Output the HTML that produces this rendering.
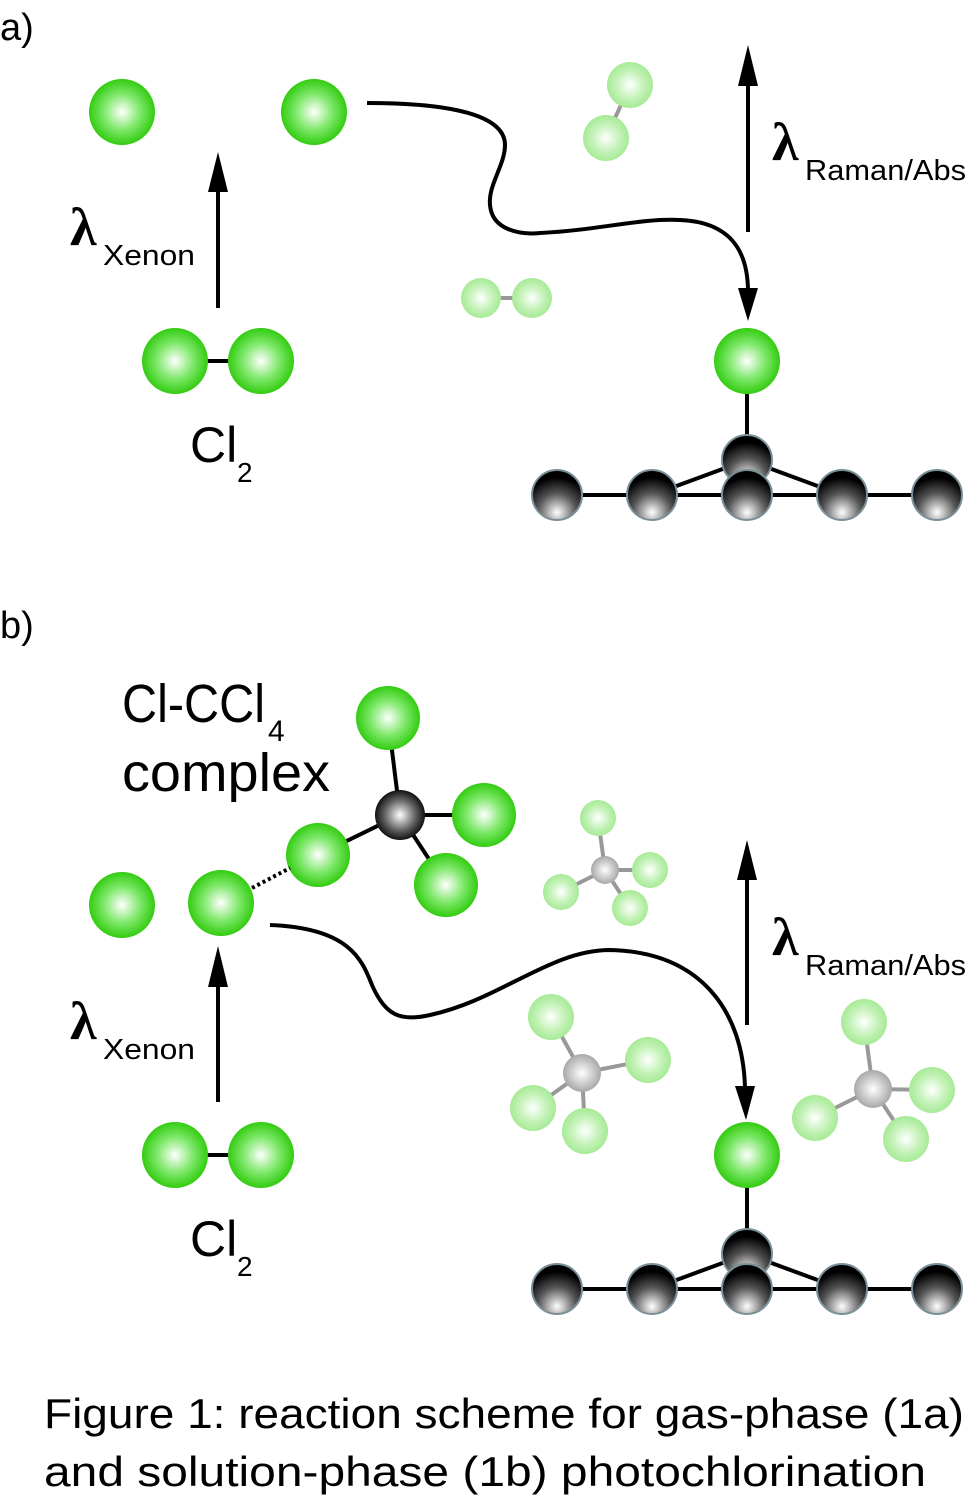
<!DOCTYPE html>
<html><head><meta charset="utf-8"><style>html,body{margin:0;padding:0;background:#fff}svg{display:block}</style></head>
<body>
<svg width="968" height="1502" viewBox="0 0 968 1502" xmlns="http://www.w3.org/2000/svg" font-family="'Liberation Sans', sans-serif">
<defs>
<radialGradient id="g" cx="0.5" cy="0.5" r="0.5"><stop offset="0" stop-color="#ffffff"/><stop offset="0.55" stop-color="#7ee86a"/><stop offset="1" stop-color="#33cc11"/></radialGradient>
<radialGradient id="f" cx="0.5" cy="0.5" r="0.5"><stop offset="0" stop-color="#ffffff"/><stop offset="0.6" stop-color="#c4f2b8"/><stop offset="1" stop-color="#a6ea96"/></radialGradient>
<radialGradient id="k" cx="0.5" cy="0.85" r="0.7"><stop offset="0" stop-color="#ffffff"/><stop offset="0.55" stop-color="#555"/><stop offset="1" stop-color="#000"/></radialGradient>
<radialGradient id="c" cx="0.5" cy="0.5" r="0.5"><stop offset="0" stop-color="#fff"/><stop offset="0.6" stop-color="#666"/><stop offset="1" stop-color="#111"/></radialGradient>
<radialGradient id="s" cx="0.5" cy="0.5" r="0.5"><stop offset="0" stop-color="#fff"/><stop offset="1" stop-color="#a8a8a8"/></radialGradient>
</defs>

<!-- ============ PANEL A ============ -->
<text x="0" y="40" font-size="38">a)</text>
<circle cx="122" cy="112" r="33" fill="url(#g)"/>
<circle cx="314" cy="112" r="33" fill="url(#g)"/>
<line x1="218" y1="308" x2="218" y2="185" stroke="#000" stroke-width="4"/>
<polygon points="208,192 228,192 218,152" fill="#000"/>
<text x="70" y="245" font-size="54" font-family="'Liberation Serif', serif" font-weight="bold">λ</text><text x="103" y="265" font-size="29" textLength="92" lengthAdjust="spacingAndGlyphs">Xenon</text>
<line x1="200" y1="361" x2="236" y2="361" stroke="#000" stroke-width="4"/>
<circle cx="175" cy="361" r="33" fill="url(#g)"/>
<circle cx="261" cy="361" r="33" fill="url(#g)"/>
<text x="190" y="462" font-size="50">Cl</text><text x="237" y="482" font-size="28">2</text>

<path d="M367,103 C450,103 505,115 505,145 C505,165 488,185 490,205 C492,230 520,235 540,233 C600,230 640,218 680,220 C730,222 748,250 748,292" fill="none" stroke="#000" stroke-width="4"/>
<polygon points="738,288 758,288 748,321" fill="#000"/>
<line x1="748" y1="232" x2="748" y2="80" stroke="#000" stroke-width="4"/>
<polygon points="738,86 758,86 748,45" fill="#000"/>
<text x="772" y="160" font-size="54" font-family="'Liberation Serif', serif" font-weight="bold">λ</text><text x="805" y="180" font-size="29" textLength="161" lengthAdjust="spacingAndGlyphs">Raman/Abs</text>

<line x1="630" y1="85" x2="606" y2="138" stroke="#999" stroke-width="4"/>
<circle cx="630" cy="85" r="23" fill="url(#f)"/>
<circle cx="606" cy="138" r="23" fill="url(#f)"/>
<line x1="481" y1="298" x2="532" y2="298" stroke="#999" stroke-width="4"/>
<circle cx="481" cy="298" r="20" fill="url(#f)"/>
<circle cx="532" cy="298" r="20" fill="url(#f)"/>

<g>
<line x1="747" y1="361" x2="747" y2="445" stroke="#000" stroke-width="4"/>
<line x1="557" y1="495" x2="937" y2="495" stroke="#000" stroke-width="4"/>
<line x1="652" y1="495" x2="747" y2="460" stroke="#000" stroke-width="4"/>
<line x1="842" y1="495" x2="747" y2="460" stroke="#000" stroke-width="4"/>
<circle cx="747" cy="361" r="33" fill="url(#g)"/>
<circle cx="747" cy="460" r="25" fill="url(#k)" stroke="#7a9098" stroke-width="2"/>
<circle cx="557" cy="495" r="25" fill="url(#k)" stroke="#7a9098" stroke-width="2"/>
<circle cx="652" cy="495" r="25" fill="url(#k)" stroke="#7a9098" stroke-width="2"/>
<circle cx="747" cy="495" r="25" fill="url(#k)" stroke="#7a9098" stroke-width="2"/>
<circle cx="842" cy="495" r="25" fill="url(#k)" stroke="#7a9098" stroke-width="2"/>
<circle cx="937" cy="495" r="25" fill="url(#k)" stroke="#7a9098" stroke-width="2"/>
</g>

<!-- ============ PANEL B ============ -->
<text x="0" y="638" font-size="38">b)</text>
<text x="122" y="722" font-size="54" textLength="143" lengthAdjust="spacingAndGlyphs">Cl-CCl</text><text x="268" y="741" font-size="30">4</text>
<text x="122" y="791" font-size="54" textLength="208" lengthAdjust="spacingAndGlyphs">complex</text>

<line x1="400" y1="815" x2="388" y2="718" stroke="#000" stroke-width="4"/>
<line x1="400" y1="815" x2="484" y2="815" stroke="#000" stroke-width="4"/>
<line x1="400" y1="815" x2="446" y2="885" stroke="#000" stroke-width="4"/>
<line x1="400" y1="815" x2="318" y2="855" stroke="#000" stroke-width="4"/>
<circle cx="388" cy="718" r="32" fill="url(#g)"/>
<circle cx="484" cy="815" r="32" fill="url(#g)"/>
<circle cx="446" cy="885" r="32" fill="url(#g)"/>
<circle cx="318" cy="855" r="32" fill="url(#g)"/>
<circle cx="400" cy="815" r="25" fill="url(#c)"/>
<line x1="252" y1="888" x2="290" y2="868" stroke="#000" stroke-width="4" stroke-dasharray="3,3"/>
<circle cx="122" cy="905" r="33" fill="url(#g)"/>
<circle cx="221" cy="903" r="33" fill="url(#g)"/>

<line x1="218" y1="1102" x2="218" y2="980" stroke="#000" stroke-width="4"/>
<polygon points="208,987 228,987 218,946" fill="#000"/>
<text x="70" y="1039" font-size="54" font-family="'Liberation Serif', serif" font-weight="bold">λ</text><text x="103" y="1059" font-size="29" textLength="92" lengthAdjust="spacingAndGlyphs">Xenon</text>
<line x1="200" y1="1155" x2="236" y2="1155" stroke="#000" stroke-width="4"/>
<circle cx="175" cy="1155" r="33" fill="url(#g)"/>
<circle cx="261" cy="1155" r="33" fill="url(#g)"/>
<text x="190" y="1256" font-size="50">Cl</text><text x="237" y="1276" font-size="28">2</text>

<path d="M270,925 C350,928 362,960 372,985 C385,1015 400,1022 430,1015 C500,1000 550,950 610,950 C700,952 743,1010 745,1088" fill="none" stroke="#000" stroke-width="4"/>
<polygon points="735,1086 755,1086 746,1120" fill="#000"/>
<line x1="747" y1="1025" x2="747" y2="874" stroke="#000" stroke-width="4"/>
<polygon points="737,880 757,880 747,840" fill="#000"/>
<text x="772" y="955" font-size="54" font-family="'Liberation Serif', serif" font-weight="bold">λ</text><text x="805" y="975" font-size="29" textLength="161" lengthAdjust="spacingAndGlyphs">Raman/Abs</text>

<g stroke="#999" stroke-width="4">
<line x1="605" y1="870" x2="598" y2="818"/><line x1="605" y1="870" x2="650" y2="870"/><line x1="605" y1="870" x2="630" y2="908"/><line x1="605" y1="870" x2="561" y2="892"/>
<line x1="582" y1="1073" x2="551" y2="1017"/><line x1="582" y1="1073" x2="648" y2="1060"/><line x1="582" y1="1073" x2="585" y2="1131"/><line x1="582" y1="1073" x2="533" y2="1108"/>
<line x1="873" y1="1089" x2="864" y2="1022"/><line x1="873" y1="1089" x2="932" y2="1090"/><line x1="873" y1="1089" x2="906" y2="1139"/><line x1="873" y1="1089" x2="815" y2="1118"/>
</g>
<circle cx="598" cy="818" r="18" fill="url(#f)"/><circle cx="650" cy="870" r="18" fill="url(#f)"/><circle cx="630" cy="908" r="18" fill="url(#f)"/><circle cx="561" cy="892" r="18" fill="url(#f)"/>
<circle cx="605" cy="870" r="14" fill="url(#s)"/>
<circle cx="551" cy="1017" r="23" fill="url(#f)"/><circle cx="648" cy="1060" r="23" fill="url(#f)"/><circle cx="585" cy="1131" r="23" fill="url(#f)"/><circle cx="533" cy="1108" r="23" fill="url(#f)"/>
<circle cx="582" cy="1073" r="19" fill="url(#s)"/>
<circle cx="864" cy="1022" r="23" fill="url(#f)"/><circle cx="932" cy="1090" r="23" fill="url(#f)"/><circle cx="906" cy="1139" r="23" fill="url(#f)"/><circle cx="815" cy="1118" r="23" fill="url(#f)"/>
<circle cx="873" cy="1089" r="19" fill="url(#s)"/>

<g transform="translate(0,794)">
<line x1="747" y1="361" x2="747" y2="445" stroke="#000" stroke-width="4"/>
<line x1="557" y1="495" x2="937" y2="495" stroke="#000" stroke-width="4"/>
<line x1="652" y1="495" x2="747" y2="460" stroke="#000" stroke-width="4"/>
<line x1="842" y1="495" x2="747" y2="460" stroke="#000" stroke-width="4"/>
<circle cx="747" cy="361" r="33" fill="url(#g)"/>
<circle cx="747" cy="460" r="25" fill="url(#k)" stroke="#7a9098" stroke-width="2"/>
<circle cx="557" cy="495" r="25" fill="url(#k)" stroke="#7a9098" stroke-width="2"/>
<circle cx="652" cy="495" r="25" fill="url(#k)" stroke="#7a9098" stroke-width="2"/>
<circle cx="747" cy="495" r="25" fill="url(#k)" stroke="#7a9098" stroke-width="2"/>
<circle cx="842" cy="495" r="25" fill="url(#k)" stroke="#7a9098" stroke-width="2"/>
<circle cx="937" cy="495" r="25" fill="url(#k)" stroke="#7a9098" stroke-width="2"/>
</g>

<text x="44" y="1428" font-size="42" textLength="920" lengthAdjust="spacingAndGlyphs">Figure 1:  reaction scheme for gas-phase (1a)</text>
<text x="44" y="1486" font-size="42" textLength="882" lengthAdjust="spacingAndGlyphs">and solution-phase (1b) photochlorination</text>
</svg>
</body></html>
